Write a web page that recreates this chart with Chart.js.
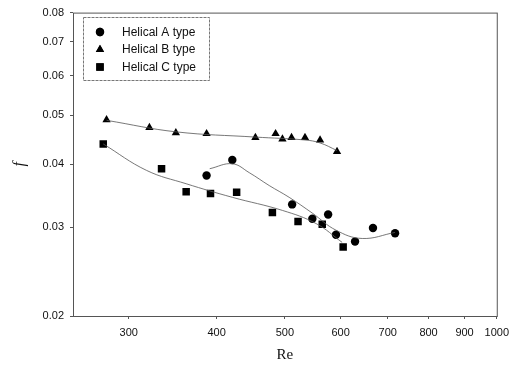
<!DOCTYPE html>
<html>
<head>
<meta charset="utf-8">
<script src="https://cdn.jsdelivr.net/npm/chart.js@4.4.0/dist/chart.umd.min.js"></script>
<style>
  html, body { margin: 0; padding: 0; background: #fff; }
  #wrap { width: 516px; height: 365px; }
</style>
</head>
<body>
<div id="wrap"><canvas id="fChart" width="516" height="365"></canvas></div>
<script>
// values

const reA = [387, 421, 512, 547, 576, 591, 629, 667, 717];
const fA  = [0.0380, 0.0408, 0.0333, 0.0312, 0.0318, 0.0290, 0.0281, 0.0299, 0.0292];

const reB = [279, 321, 350, 387, 454, 485, 496, 511, 534, 561, 593];
const fB  = [0.0490, 0.0473, 0.0462, 0.0460, 0.0452, 0.0460, 0.0449, 0.0452, 0.0452, 0.0447, 0.0424];

const reC = [276, 334, 362, 392, 427, 480, 522, 565, 605];
const fC  = [0.0439, 0.0392, 0.0353, 0.0350, 0.0352, 0.0321, 0.0308, 0.0304, 0.0274];

// fitted curves, points
const fitAre = [391, 421, 445, 475, 507, 547, 591, 644, 717];
const fitAf  = [0.0392, 0.0401, 0.0385, 0.0363, 0.0344, 0.0320, 0.0296, 0.0285, 0.0293];

const fitBre = [279, 350, 454, 534, 561, 593];
const fitBf  = [0.0489, 0.0464, 0.0453, 0.0447, 0.0441, 0.0426];

const fitCre = [276, 318, 362, 421, 496, 554, 603];
const fitCf  = [0.0439, 0.0389, 0.0366, 0.0344, 0.0324, 0.0305, 0.0280];

const xTicks = [300, 400, 500, 600, 700, 800, 900, 1000];
const yTicks = [0.02, 0.03, 0.04, 0.05, 0.06, 0.07, 0.08];

const seriesNames = ['Helical A type', 'Helical B type', 'Helical C type'];

const pts = (xs, ys) => xs.map((x, i) => ({ x: x, y: ys[i] }));

const fitLine = (xs, ys) => ({
    data: pts(xs, ys),
    showLine: true,
    pointRadius: 0,
    borderColor: '#555',
    borderWidth: 0.8,
    tension: 0.4,
    fill: false,
    isFit: true
});

const markerSet = (label, xs, ys, style, r) => ({
    label: label,
    data: pts(xs, ys),
    showLine: false,
    pointStyle: style,
    pointRadius: r,
    pointHoverRadius: r,
    backgroundColor: '#000',
    borderColor: '#000',
    borderWidth: 0
});

// box round the plot + legend drawn inside it
const framePlugin = {
    id: 'frame',
    afterDraw(chart) {
        const ctx = chart.ctx;
        const a = chart.chartArea;
        ctx.save();
        ctx.strokeStyle = '#555';
        ctx.lineWidth = 1;
        ctx.strokeRect(a.left + 0.5, a.top + 0.5, a.right - a.left, a.bottom - a.top);

        // legend
        ctx.strokeStyle = '#777';
        ctx.setLineDash([3, 1]);
        ctx.strokeRect(83.5, 17.5, 126, 63);
        ctx.setLineDash([]);
        ctx.font = '12px "Liberation Sans", Arial, sans-serif';
        ctx.fillStyle = '#111';
        ctx.textBaseline = 'middle';
        const marks = chart.data.datasets.filter(d => !d.isFit);
        marks.forEach((d, i) => {
            const y = 32 + i * 17.5;
            Chart.helpers.drawPoint(ctx, {
                pointStyle: d.pointStyle,
                radius: d.pointRadius,
                rotation: 0,
                borderWidth: 0
            }, 100, y);
            ctx.fillStyle = '#000';
            ctx.fill();
            ctx.fillStyle = '#111';
            ctx.fillText(d.label, 122, y + 0.5);
        });
        ctx.restore();
    }
};

const ctx = document.getElementById('fChart').getContext('2d');

new Chart(ctx, {
    type: 'scatter',
    data: {
        datasets: [
            fitLine(fitAre, fitAf),
            fitLine(fitBre, fitBf),
            fitLine(fitCre, fitCf),
            markerSet(seriesNames[0], reA, fA, 'circle', 4.2),
            markerSet(seriesNames[1], reB, fB, 'triangle', 4.8),
            markerSet(seriesNames[2], reC, fC, 'rect', 5.3)
        ]
    },
    options: {
        responsive: false,
        animation: false,
        layout: { padding: { left: 0, right: 18, top: 10, bottom: 0 } },
        plugins: {
            legend: { display: false },
            tooltip: { enabled: false }
        },
        scales: {
            x: {
                type: 'logarithmic',
                min: 250,
                max: 1000,
                afterBuildTicks: s => { s.ticks = xTicks.map(v => ({ value: v })); },
                afterFit: s => { s.height = 49; },
                grid: { drawOnChartArea: false, tickLength: 3, color: '#555' },
                border: { display: false },
                ticks: {
                    padding: 7,
                    color: '#111',
                    maxRotation: 0,
                    font: { family: '"Liberation Sans", Arial, sans-serif', size: 11 },
                    callback: v => String(v)
                },
                title: {
                    display: true,
                    text: 'Re',
                    color: '#111',
                    padding: { top: 0, bottom: 1 },
                    font: { family: '"Liberation Serif", "Times New Roman", serif', size: 15 }
                }
            },
            y: {
                type: 'logarithmic',
                min: 0.02,
                max: 0.08,
                afterBuildTicks: s => { s.ticks = yTicks.map(v => ({ value: v })); },
                afterFit: s => { s.width = 73; },
                grid: { drawOnChartArea: false, tickLength: 3, color: '#555' },
                border: { display: false },
                ticks: {
                    padding: 6,
                    color: '#111',
                    font: { family: '"Liberation Sans", Arial, sans-serif', size: 11 },
                    callback: v => Number(v).toFixed(2)
                },
                title: {
                    display: true,
                    text: 'f',
                    color: '#111',
                    padding: { top: 10, bottom: 0 },
                    font: { family: '"Liberation Serif", "Times New Roman", serif', size: 16, style: 'italic' }
                }
            }
        }
    },
    plugins: [framePlugin]
});
</script>
</body>
</html>
